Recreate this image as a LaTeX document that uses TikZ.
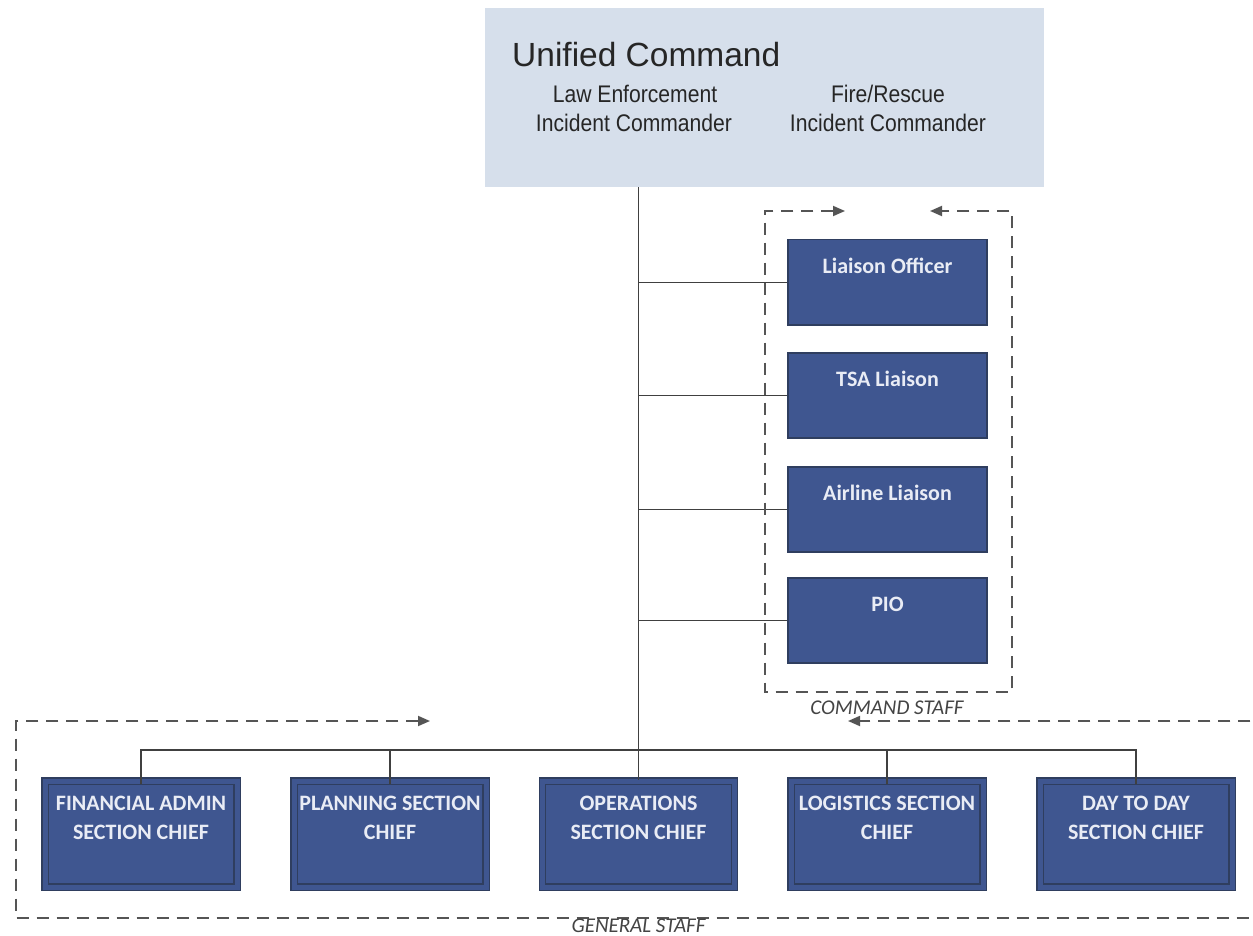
\documentclass[tikz,border=0pt]{standalone}
\usepackage{fontspec}
\setmainfont{Liberation Sans}
\newfontfamily\hdfont{Liberation Sans}
\newfontfamily\narfont[FakeStretch=0.88]{Liberation Sans}
\newfontfamily\calfont{Carlito}
\usetikzlibrary{arrows.meta}
\definecolor{ucfill}{HTML}{D6DFEB}
\definecolor{boxfill}{HTML}{3F5690}
\definecolor{boxline}{HTML}{2F3E5F}
\definecolor{boxtext}{HTML}{E9ECF5}
\definecolor{conn}{HTML}{404040}
\definecolor{dashc}{HTML}{555555}
\definecolor{captc}{HTML}{444444}
\tikzset{
  ucbox/.style={fill=ucfill, draw=none, minimum width=559pt, minimum height=179pt, anchor=north west, inner sep=0pt},
  cbox/.style={fill=boxfill, draw=boxline, line width=1.5pt, minimum width=199pt, minimum height=85pt, anchor=north west, inner sep=0pt},
  gbox/.style={fill=boxfill, draw=boxline, line width=1.3pt, double=boxfill, double distance=5pt, minimum width=192pt, minimum height=106pt, inner sep=0pt},
  boxtxt/.style={text=boxtext, font=\calfont\bfseries\fontsize{22}{29}\selectfont, align=center, anchor=base, inner sep=0pt},
  uctitle/.style={text=black!85, font=\hdfont\fontsize{33.5}{40}\selectfont, anchor=base west, inner sep=0pt},
  ucsub/.style={text=black!85, font=\narfont\fontsize{24}{29}\selectfont, align=center, anchor=base, inner sep=0pt},
  conline/.style={draw=conn, line width=1.4pt},
  staffline/.style={draw=dashc, line width=1.8pt, dash pattern=on 12pt off 8pt, {Triangle[length=12pt,width=10pt]}-{Triangle[length=12pt,width=10pt]}},
  caption/.style={text=captc, font=\calfont\itshape\fontsize{21}{25}\selectfont, anchor=base, inner sep=0pt}
}
\begin{document}
\begin{tikzpicture}[x=1pt,y=-1pt]
\useasboundingbox (0,0) rectangle (1253,936);
\fill[white] (0,0) rectangle (1253,936);
\clip (0,0) rectangle (1253,936);

% Unified command
\node[ucbox] (uc) at (485,8) {};
\node[uctitle] (uct) at (512,67) {Unified Command};
\node[ucsub] (law1) at (635,103) {Law Enforcement};
\node[ucsub] (law2) at (634,132) {Incident Commander};
\node[ucsub] (fire1) at (888,103) {Fire/Rescue};
\node[ucsub] (fire2) at (888,132) {Incident Commander};

% Command staff
\node[cbox] (lia) at (787,239) {};
\node[cbox] (tsa) at (787,352) {};
\node[cbox] (air) at (787,466) {};
\node[cbox] (pio) at (787,577) {};
\node[boxtxt] (liat) at (887.5,273) {Liaison Officer};
\node[boxtxt] (tsat) at (887.5,386) {TSA Liaison};
\node[boxtxt] (airt) at (887.5,500) {Airline Liaison};
\node[boxtxt] (piot) at (887.5,611) {PIO};

% General staff
\node[gbox] (fin) at (141,834) {};
\node[gbox] (pla) at (390,834) {};
\node[gbox] (ops) at (638.5,834) {};
\node[gbox] (log) at (887,834) {};
\node[gbox] (day) at (1136,834) {};
\node[boxtxt] (fint) at (141,839) {FINANCIAL ADMIN\\SECTION CHIEF};
\node[boxtxt] (plat) at (390,839) {PLANNING SECTION\\CHIEF};
\node[boxtxt] (opst) at (638.5,839) {OPERATIONS\\SECTION CHIEF};
\node[boxtxt] (logt) at (887,839) {LOGISTICS SECTION\\CHIEF};
\node[boxtxt] (dayt) at (1136,839) {DAY TO DAY\\SECTION CHIEF};

% connectors
\coordinate (bar) at (638.5,750);
\draw[conline] (ops.north |- uc.south) -- (ops.north);
\draw[conline] (ops.north |- lia.west) -- (lia.west);
\draw[conline] (ops.north |- tsa.west) -- (tsa.west);
\draw[conline] (ops.north |- air.west) -- (air.west);
\draw[conline] (ops.north |- pio.west) -- (pio.west);
\draw[conline] ([yshift=-4pt]fin.north) -- (fin.north |- bar) -- (day.north |- bar) -- ([yshift=-4pt]day.north);
\draw[conline] ([yshift=-4pt]pla.north) -- (pla.north |- bar);
\draw[conline] ([yshift=-4pt]log.north) -- (log.north |- bar);

% staff frames
\coordinate (cs1) at (845,211);
\coordinate (cs2) at (930,211);
\draw[staffline] (cs1) -- (765,211) -- (765,692) -- (1012,692) -- (1012,211) -- (cs2);
\coordinate (gs1) at (430,721);
\coordinate (gs2) at (848,721);
\draw[staffline] (gs1) -- (16,721) -- (16,918) -- (1275,918) -- (1275,721) -- (gs2);

\node[caption] (cscap) at (887,714) {COMMAND STAFF};
\node[caption] (gscap) at (638.5,932) {GENERAL STAFF};
\end{tikzpicture}
\end{document}
